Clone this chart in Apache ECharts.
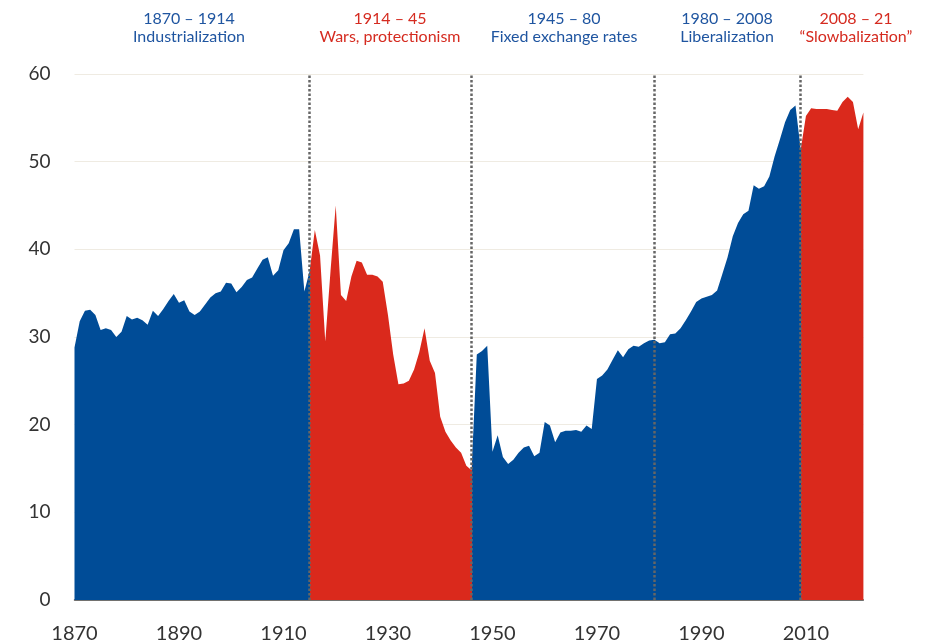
<!DOCTYPE html>
<html>
<head>
<meta charset="utf-8">
<script src="https://cdn.jsdelivr.net/npm/echarts@6/dist/echarts.min.js"></script>
<style>
  html, body { margin: 0; padding: 0; background: #ffffff; }
  #chart { width: 930px; height: 644px; }
</style>
</head>
<body>
<div id="chart"></div>
<script>
// ---- Data ----
const startYear = 1870;
const tradeShare = [
  28.8, 31.8, 33.0, 33.1, 32.5, 30.8, 31.0, 30.8, 30.0, 30.6,   // 1870-1879
  32.4, 32.0, 32.2, 31.9, 31.4, 33.0, 32.4, 33.2, 34.1, 34.9,   // 1880-1889
  33.9, 34.2, 32.9, 32.5, 32.9, 33.7, 34.5, 35.0, 35.2, 36.2,   // 1890-1899
  36.1, 35.1, 35.7, 36.5, 36.8, 37.8, 38.8, 39.1, 37.0, 37.6,   // 1900-1909
  39.9, 40.7, 42.3, 42.3, 35.2, 37.5, 42.2, 39.3, 29.5, 37.5,   // 1910-1919
  45.0, 34.8, 34.1, 36.9, 38.7, 38.5, 37.1, 37.1, 36.9, 36.3,   // 1920-1929
  32.5, 28.0, 24.6, 24.7, 25.0, 26.3, 28.3, 31.0, 27.3, 25.9,   // 1930-1939
  20.9, 19.2, 18.2, 17.4, 16.8, 15.3, 14.8, 28.0, 28.4, 29.0,   // 1940-1949
  16.9, 18.8, 16.3, 15.5, 16.0, 16.8, 17.4, 17.6, 16.4, 16.8,   // 1950-1959
  20.3, 19.9, 18.0, 19.1, 19.3, 19.3, 19.4, 19.2, 19.9, 19.5,   // 1960-1969
  25.2, 25.6, 26.3, 27.4, 28.5, 27.7, 28.6, 29.0, 28.9, 29.3,   // 1970-1979
  29.6, 29.7, 29.3, 29.4, 30.3, 30.4, 31.0, 31.9, 32.9, 34.0,   // 1980-1989
  34.4, 34.6, 34.8, 35.3, 37.2, 39.1, 41.5, 43.0, 44.0, 44.4,   // 1990-1999
  47.3, 46.9, 47.2, 48.3, 50.6, 52.5, 54.5, 55.9, 56.4, 51.4,   // 2000-2009
  55.2, 56.1, 56.0, 56.0, 56.0, 55.9, 55.8, 56.8, 57.4, 56.8,   // 2010-2019
  53.7, 55.6                                                    // 2020-2021
];
const years = tradeShare.map((_, i) => startYear + i);
const eraBoundaries = [1915, 1946, 1981, 2009];
const eraYears = ['1870 – 1914', '1914 – 45', '1945 – 80', '1980 – 2008', '2008 – 21'];
const eraNames = ['Industrialization', 'Wars, protectionism', 'Fixed exchange rates', 'Liberalization', '“Slowbalization”'];
const eraIsRed = [false, true, false, false, true];
const xTicks = [1870, 1890, 1910, 1930, 1950, 1970, 1990, 2010];
const yTicks = [0, 10, 20, 30, 40, 50, 60];

// ---- Styles ----
const BLUE = '#004c97';
const RED = '#da291c';
const TXT_BLUE = '#1f55a0';
const TXT_RED = '#d52b20';
const FONT = 'Lato, "Noto Sans", sans-serif';
const eraCenters = [189, 390, 564, 727, 856];

const seriesData = years.map((y, i) => [y, tradeShare[i]]);

const graphics = [];
eraYears.forEach((t, i) => {
  const c = eraIsRed[i] ? TXT_RED : TXT_BLUE;
  graphics.push({
    type: 'text', x: eraCenters[i], y: 19,
    style: { text: t, fill: c, font: '16px ' + FONT, textAlign: 'center', textVerticalAlign: 'middle' }
  });
  graphics.push({
    type: 'text', x: eraCenters[i], y: 37,
    style: { text: eraNames[i], fill: c, font: '16px ' + FONT, textAlign: 'center', textVerticalAlign: 'middle' }
  });
});

const chart = echarts.init(document.getElementById('chart'), null, { renderer: 'canvas' });
chart.setOption({
  animation: false,
  backgroundColor: '#ffffff',
  grid: { left: 74.5, right: 66.6, top: 74, bottom: 41 },
  xAxis: {
    type: 'value',
    min: startYear,
    max: years[years.length - 1],
    interval: 20,
    axisLine: { show: true, onZero: false, lineStyle: { color: '#4a4a4a', width: 1.5 } },
    axisTick: { show: false },
    splitLine: { show: false },
    axisLabel: {
      margin: 24,
      color: '#333333',
      fontFamily: FONT,
      fontSize: 20,
      formatter: v => (xTicks.indexOf(v) >= 0 ? String(v) : ''),
      showMaxLabel: false
    }
  },
  yAxis: {
    type: 'value',
    min: yTicks[0],
    max: yTicks[yTicks.length - 1],
    interval: 10,
    axisLine: { show: false },
    axisTick: { show: false },
    splitLine: { show: true, lineStyle: { color: '#efebe2', width: 1 } },
    axisLabel: { margin: 24, color: '#333333', fontFamily: FONT, fontSize: 19 }
  },
  visualMap: {
    type: 'piecewise',
    show: false,
    dimension: 0,
    seriesIndex: 0,
    pieces: [
      { lt: eraBoundaries[0], color: BLUE },
      { gte: eraBoundaries[0], lt: eraBoundaries[1], color: RED },
      { gte: eraBoundaries[1], lt: eraBoundaries[3], color: BLUE },
      { gte: eraBoundaries[3], color: RED }
    ]
  },
  series: [{
    type: 'line',
    data: seriesData,
    showSymbol: false,
    symbol: 'none',
    smooth: false,
    lineStyle: { width: 0 },
    areaStyle: { opacity: 1 },
    markLine: {
      silent: true,
      symbol: ['none', 'none'],
      label: { show: false },
      lineStyle: { color: '#666666', width: 2.5, type: [2.5, 2] },
      data: eraBoundaries.map(b => ({ xAxis: b }))
    }
  }],
  graphic: graphics
});
</script>
</body>
</html>
